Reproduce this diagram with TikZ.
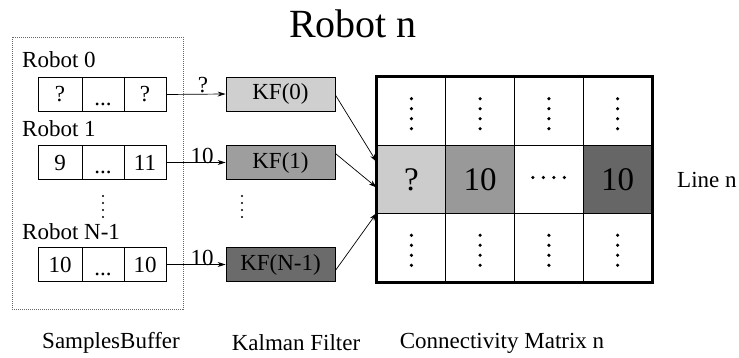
\documentclass[tikz,border=0pt]{standalone}
\usepackage{fontspec}
\setmainfont{Liberation Serif}
\usetikzlibrary{arrows.meta,calc}
\begin{document}
\begin{tikzpicture}[x=1pt,y=-1pt,
  txt/.style={font=\fontsize{23}{27}\selectfont, inner sep=0pt},
  bcell/.style={draw, line width=0.8pt, minimum height=34pt, inner sep=0pt, font=\fontsize{23}{27}\selectfont},
  kfbox/.style={draw, line width=0.8pt, minimum width=109pt, minimum height=34pt, inner sep=0pt, font=\fontsize{23}{27}\selectfont},
  mcell/.style={draw, line width=0.8pt, minimum width=68.75pt, minimum height=68.33pt, inner sep=0pt, font=\fontsize{33}{37}\selectfont},
  arr/.style={-{Stealth[length=8pt,width=5pt]}, line width=0.7pt},
  dotc/.style={fill=black, radius=1.8pt},
  sdot/.style={fill=black, radius=1.1pt}
]
\useasboundingbox (0,0) rectangle (739,358);

% title
\node[font=\fontsize{40}{44}\selectfont, inner sep=0pt] (title) at (353,24) {Robot n};

% samples buffer frame
\node[draw, gray!80!black, line width=0.6pt, dash pattern=on 1pt off 1pt,
      minimum width=171pt, minimum height=272pt, inner sep=0pt] (frame) at (97.5,173) {};

% row labels
\node[txt, anchor=west] (r0) at (22,60) {Robot 0};
\node[txt, anchor=west] (r1) at (22,129) {Robot 1};
\node[txt, anchor=west] (r2) at (22,232) {Robot N-1};

% buffer rows
\foreach \r/\y/\a/\c in {0/94.5/?/?, 1/162.5/9/11, 2/264.5/10/10}{
  \node[bcell, minimum width=44pt] (b\r a) at (60,\y) {\a};
  \node[bcell, minimum width=42pt] (b\r b) at (103,\y) {};
  \node[txt, anchor=base] (b\r d) at ($(b\r b.south)+(0,-6)$) {...};
  \node[bcell, minimum width=42pt] (b\r c) at (145,\y) {\c};
}

% vertical dots left
\foreach \yy in {196,203,210,217}{ \fill[sdot] (103,\yy) circle; }
\foreach \yy in {196,203,210,217}{ \fill[sdot] (242,\yy) circle; }

% KF boxes
\node[kfbox, fill=black!19] (kf0) at (280.5,94) {KF(0)};
\node[kfbox, fill=black!38] (kf1) at (280.5,162.5) {KF(1)};
\node[kfbox, fill=black!58] (kf2) at (280.5,264.5) {KF(N-1)};

% arrows buffer -> KF
\draw[arr] (b0c.east) -- (kf0.west);
\draw[arr] (b1c.east) -- (kf1.west);
\draw[arr] (b2c.east) -- (kf2.west);
\node[txt] (l0) at (203,85) {?};
\node[txt] (l1) at (202,156) {10};
\node[txt] (l2) at (202,258) {10};

% matrix
\foreach \i/\y in {0/111.2,1/179.5,2/247.8}{
  \foreach \j/\x in {0/411.4,1/480.1,2/548.9,3/617.6}{
    \node[mcell] (m\i\j) at (\x,\y) {};
  }
}
\node[mcell, fill=black!20] at (m10) {?};
\node[mcell, fill=black!40] at (m11) {10};
\node[mcell, fill=black!60] at (m13) {10};
\foreach \j in {0,1,2,3}{
  \foreach \d in {-12.5,-2.5,7.5,17.5}{
    \fill[dotc] ($(m0\j.center)+(0,\d)$) circle;
    \fill[dotc] ($(m2\j.center)+(0,\d)$) circle;
  }
}
\foreach \d in {-16,-5.5,5,15.5}{ \fill[dotc] ($(m12.center)+(\d,-2)$) circle; }
\draw[line width=3pt] (m00.north west) rectangle (m23.south east);

% arrows KF -> matrix
\coordinate (in0) at ($(m10.north west)+(0,17)$);
\coordinate (in1) at ($(m10.west)+(0,8)$);
\coordinate (in2) at ($(m10.south west)+(0,-1)$);
\draw[arr] ($(kf0.east)+(0,1)$) -- (in0);
\draw[arr] ($(kf1.east)+(0,-9)$) -- (in1);
\draw[arr] ($(kf2.east)+(0,6)$) -- (in2);

\node[txt, anchor=west] (ln) at (677,180) {Line n};

% captions
\node[txt] (c0) at (111,343) {SamplesBuffer};
\node[txt] (c1) at (296,343) {Kalman Filter};
\node[txt] (c2) at (502,343) {Connectivity Matrix n};
\end{tikzpicture}
\end{document}
